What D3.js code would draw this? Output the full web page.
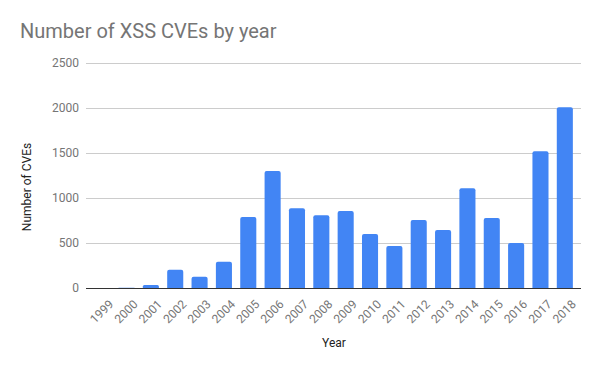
<!DOCTYPE html>
<html lang='en'>
<head>
    <meta charset='UTF-8'>
    <title>Number of XSS CVEs by year</title>
    <script src="https://cdn.jsdelivr.net/npm/d3@7"></script>
    <style>
        body { margin: 0; background: #fff; }
        text { font-family: Roboto, "Noto Sans", sans-serif; }
    </style>
</head>
<body>
    <svg class="chart"></svg>
<script>
    // data
    const years = ['1999', '2000', '2001', '2002', '2003', '2004', '2005', '2006', '2007', '2008',
                   '2009', '2010', '2011', '2012', '2013', '2014', '2015', '2016', '2017', '2018'];
    const cves = [1, 2, 34, 201, 124, 290, 786, 1298, 884, 806,
                  853, 598, 466, 755, 643, 1106, 776, 498, 1517, 2004];
    const yTicks = [0, 500, 1000, 1500, 2000, 2500];

    const width = 600,
          height = 371;

    const svg = d3.select('.chart')
                  .attr('width', width)
                  .attr('height', height);

    const x = d3.scaleBand()
                .domain(years)
                .range([90, 577])
                .paddingInner(0.34)
                .paddingOuter(0.17);

    const y = d3.scaleLinear()
                .domain([0, 2500])
                .range([288, 62.5]);

    // title
    svg.append('text')
       .attr('x', 20)
       .attr('y', 38)
       .style('font-size', '20px')
       .style('fill', '#757575')
       .text('Number of XSS CVEs by year');

    // gridlines + y labels
    const grid = svg.append('g');
    grid.selectAll('line').data(yTicks).enter()
        .append('line')
        .attr('x1', 86).attr('x2', 581)
        .attr('y1', d => Math.round(y(d)) + 0.5)
        .attr('y2', d => Math.round(y(d)) + 0.5)
        .style('stroke', '#cccccc')
        .style('stroke-width', 1);

    grid.selectAll('text').data(yTicks).enter()
        .append('text')
        .attr('x', 79)
        .attr('y', d => y(d))
        .attr('dy', '0.35em')
        .style('text-anchor', 'end')
        .style('font-size', '12px')
        .style('fill', '#757575')
        .text(d => d);

    // bars with rounded tops
    const r = 2;
    svg.append('g').selectAll('path').data(years).enter()
       .append('path')
       .attr('d', (d, i) => {
           const x0 = x(d), w = x.bandwidth();
           const y0 = y(cves[i]), yb = y(0);
           const rr = Math.min(r, (yb - y0) / 2);
           return `M${x0},${yb}V${y0 + rr}Q${x0},${y0} ${x0 + rr},${y0}` +
                  `H${x0 + w - rr}Q${x0 + w},${y0} ${x0 + w},${y0 + rr}V${yb}Z`;
       })
       .style('fill', '#4285f4');

    // baseline
    svg.append('line')
       .attr('x1', 86).attr('x2', 581)
       .attr('y1', y(0) + 0.5).attr('y2', y(0) + 0.5)
       .style('stroke', '#333333')
       .style('stroke-width', 1);

    // x labels, slanted
    svg.append('g').selectAll('text').data(years).enter()
       .append('text')
       .attr('transform', d => `translate(${x(d) + x.bandwidth() / 2 + 12}, 305) rotate(-45)`)
       .style('text-anchor', 'end')
       .style('font-size', '12px')
       .style('fill', '#757575')
       .text(d => d);

    // axis titles
    svg.append('text')
       .attr('x', 334)
       .attr('y', 347)
       .style('text-anchor', 'middle')
       .style('font-size', '12px')
       .style('fill', '#222222')
       .text('Year');

    svg.append('text')
       .attr('transform', 'translate(31, 187) rotate(-90)')
       .style('text-anchor', 'middle')
       .style('font-size', '12px')
       .style('fill', '#222222')
       .text('Number of CVEs');
</script>
</body>
</html>
